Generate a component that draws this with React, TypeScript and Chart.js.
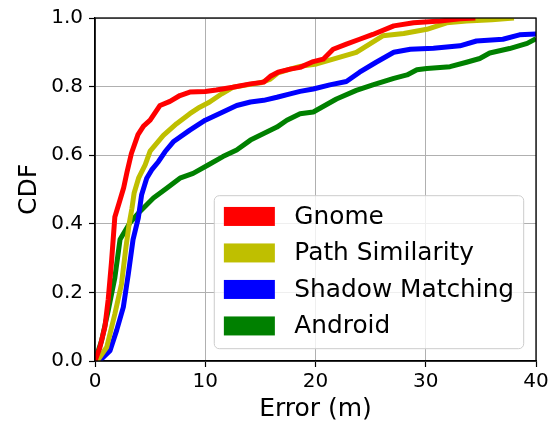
import React, { useEffect, useRef } from "react";
import { Chart, registerables } from "chart.js";

Chart.register(...registerables);

const seriesLabels = ["Gnome", "Path Similarity", "Shadow Matching", "Android"];
const seriesColors = ["#ff0000", "#bfbf00", "#0000ff", "#008000"];

const gnomeX = [0, 0.45, 0.9, 1.2, 1.5, 1.8, 2.2, 2.6, 2.9, 3.3, 3.9, 4.4, 5.0, 5.9, 6.8, 7.7, 8.6, 10.0, 11.0, 12.5, 14.1, 15.3, 15.9, 16.6, 17.7, 18.6, 19.8, 20.7, 21.6, 22.8, 24.0, 25.2, 27.1, 28.9, 31.3, 33.1, 34.5];
const gnomeY = [0, 0.04, 0.1, 0.18, 0.29, 0.42, 0.462, 0.505, 0.55, 0.605, 0.66, 0.685, 0.702, 0.745, 0.757, 0.774, 0.784, 0.786, 0.79, 0.798, 0.808, 0.813, 0.83, 0.842, 0.851, 0.856, 0.873, 0.88, 0.909, 0.924, 0.938, 0.952, 0.977, 0.986, 0.991, 0.998, 1.0];

const pathX = [0.2, 1.06, 1.8, 2.4, 2.8, 3.1, 3.35, 3.55, 3.95, 4.55, 5.0, 6.2, 7.4, 8.6, 9.5, 10.4, 11.5, 12.5, 13.8, 15.0, 15.9, 16.6, 17.7, 18.6, 20.1, 21.6, 23.7, 24.9, 26.1, 28.0, 30.1, 31.9, 33.7, 36.0, 38.0];
const pathY = [0, 0.04, 0.137, 0.224, 0.33, 0.4, 0.445, 0.49, 0.533, 0.572, 0.612, 0.658, 0.692, 0.721, 0.74, 0.755, 0.779, 0.798, 0.805, 0.811, 0.822, 0.84, 0.851, 0.859, 0.866, 0.88, 0.9, 0.924, 0.948, 0.955, 0.967, 0.986, 0.991, 0.995, 1.0];

const shadowX = [0.4, 1.36, 1.97, 2.57, 3.02, 3.45, 3.93, 4.23, 4.69, 5.14, 5.75, 6.35, 7.1, 8.6, 10.0, 11.6, 12.85, 14.1, 15.3, 16.5, 17.7, 18.6, 19.8, 21.3, 22.8, 24.0, 25.5, 27.1, 28.6, 30.7, 33.1, 34.6, 37.0, 38.5, 40];
const shadowY = [0, 0.03, 0.09, 0.157, 0.253, 0.354, 0.417, 0.485, 0.533, 0.557, 0.581, 0.61, 0.639, 0.673, 0.702, 0.726, 0.745, 0.755, 0.76, 0.769, 0.779, 0.786, 0.793, 0.805, 0.815, 0.842, 0.871, 0.9, 0.909, 0.912, 0.919, 0.933, 0.938, 0.951, 0.953];

const androidX = [0, 0.6, 1.2, 1.8, 2.27, 3.17, 4.08, 5.3, 6.5, 7.7, 8.9, 10.3, 11.6, 12.85, 14.1, 15.3, 16.5, 17.4, 18.6, 19.8, 21.9, 23.7, 25.2, 27.1, 28.3, 29.2, 30.1, 32.2, 33.7, 34.9, 35.8, 37.6, 39.2, 40];
const androidY = [0, 0.06, 0.147, 0.243, 0.354, 0.403, 0.436, 0.475, 0.504, 0.533, 0.547, 0.572, 0.596, 0.615, 0.644, 0.663, 0.682, 0.702, 0.721, 0.726, 0.764, 0.789, 0.805, 0.824, 0.834, 0.849, 0.853, 0.858, 0.871, 0.882, 0.898, 0.911, 0.926, 0.94];

const seriesX = [gnomeX, pathX, shadowX, androidX];
const seriesY = [gnomeY, pathY, shadowY, androidY];

const xTicks = [0, 10, 20, 30, 40];
const yTicks = [0, 0.2, 0.4, 0.6, 0.8, 1.0];

const FONT = '"DejaVu Sans", sans-serif';

const frameAndLegend = {
  id: "frameAndLegend",
  afterDatasetsDraw(chart: any) {
    const { ctx, chartArea } = chart;
    const { left, top, right, bottom } = chartArea;
    ctx.save();
    ctx.strokeStyle = "#000";
    ctx.lineWidth = 1.3;
    ctx.strokeRect(left, top, right - left, bottom - top);
    ctx.restore();
  },
  afterDraw(chart: any) {
    const { ctx, chartArea } = chart;
    const fs = 24.8;
    const pad = 9.6;
    const handleLen = 51;
    const handleGap = 19.5;
    const rowH = 24.3;
    const rowGap = 12.2;
    ctx.save();
    ctx.font = `${fs}px ${FONT}`;
    const labels: string[] = chart.data.datasets.map((d: any) => d.label);
    const maxW = Math.max(...labels.map((l) => ctx.measureText(l).width));
    const boxW = pad + handleLen + handleGap + maxW + pad;
    const boxH = 2 * pad + labels.length * rowH + (labels.length - 1) * rowGap;
    const axPad = 12.3;
    const bx = chartArea.right - axPad - boxW;
    const by = chartArea.bottom - axPad - boxH;
    const r = 5;
    ctx.beginPath();
    ctx.moveTo(bx + r, by);
    ctx.lineTo(bx + boxW - r, by);
    ctx.arcTo(bx + boxW, by, bx + boxW, by + r, r);
    ctx.lineTo(bx + boxW, by + boxH - r);
    ctx.arcTo(bx + boxW, by + boxH, bx + boxW - r, by + boxH, r);
    ctx.lineTo(bx + r, by + boxH);
    ctx.arcTo(bx, by + boxH, bx, by + boxH - r, r);
    ctx.lineTo(bx, by + r);
    ctx.arcTo(bx, by, bx + r, by, r);
    ctx.closePath();
    ctx.fillStyle = "rgba(255,255,255,0.8)";
    ctx.fill();
    ctx.strokeStyle = "#cccccc";
    ctx.lineWidth = 1;
    ctx.stroke();
    ctx.textBaseline = "middle";
    ctx.textAlign = "left";
    chart.data.datasets.forEach((d: any, i: number) => {
      const cy = by + pad + rowH / 2 + i * (rowH + rowGap) - 1;
      ctx.fillStyle = d.borderColor;
      ctx.fillRect(bx + pad, cy - 9.5, handleLen, 19);
      ctx.fillStyle = "#000";
      ctx.fillText(d.label, bx + pad + handleLen + handleGap, cy + 1);
    });
    ctx.restore();
  },
};

export default function App() {
  const ref = useRef<HTMLCanvasElement | null>(null);
  useEffect(() => {
    if (!ref.current) return;
    const datasets = seriesLabels.map((label, i) => ({
      label,
      data: seriesX[i].map((x, j) => ({ x, y: seriesY[i][j] })),
      borderColor: seriesColors[i],
      backgroundColor: seriesColors[i],
      borderWidth: 5,
      pointRadius: 0,
      tension: 0,
      fill: false,
      clip: 0,
      borderJoinStyle: "round" as const,
    }));
    const chart = new Chart(ref.current, {
      type: "line",
      data: { datasets },
      plugins: [frameAndLegend],
      options: {
        animation: false,
        responsive: false,
        devicePixelRatio: 1,
        layout: { padding: { left: 0, top: 15, right: 23, bottom: 0 } },
        plugins: { legend: { display: false }, tooltip: { enabled: false } },
        scales: {
          x: {
            type: "linear",
            min: 0,
            max: 40,
            afterBuildTicks: (scale: any) => {
              scale.ticks = xTicks.map((v) => ({ value: v }));
            },
            afterFit: (scale: any) => {
              scale.height = 64;
            },
            ticks: {
              font: { family: FONT, size: 20 },
              color: "#000",
              padding: 3,
              maxRotation: 0,
              callback: (v: any) => String(v),
            },
            grid: {
              color: "#b0b0b0",
              lineWidth: 1,
              tickColor: "#000",
              tickLength: 6,
              tickWidth: 1.2,
            },
            border: { color: "#000", width: 1.3 },
            title: {
              display: true,
              text: "Error (m)",
              font: { family: FONT, size: 25 },
              color: "#000",
              padding: { top: 0, bottom: 1 },
            },
          },
          y: {
            type: "linear",
            min: 0,
            max: 1,
            afterBuildTicks: (scale: any) => {
              scale.ticks = yTicks.map((v) => ({ value: v }));
            },
            afterFit: (scale: any) => {
              scale.width = 95;
            },
            ticks: {
              font: { family: FONT, size: 20 },
              color: "#000",
              padding: 6,
              callback: (v: any) => Number(v).toFixed(1),
            },
            grid: {
              color: "#b0b0b0",
              lineWidth: 1,
              tickColor: "#000",
              tickLength: 6,
              tickWidth: 1.2,
            },
            border: { color: "#000", width: 1.3 },
            title: {
              display: true,
              text: "CDF",
              font: { family: FONT, size: 25 },
              color: "#000",
              padding: { top: 14, bottom: 0 },
            },
          },
        },
      },
    });
    return () => chart.destroy();
  }, []);
  return (
    <div style={{ position: "absolute", left: 0, top: 0, width: 559, height: 425, background: "#fff" }}>
      <canvas ref={ref} width={559} height={425} style={{ display: "block" }} />
    </div>
  );
}
